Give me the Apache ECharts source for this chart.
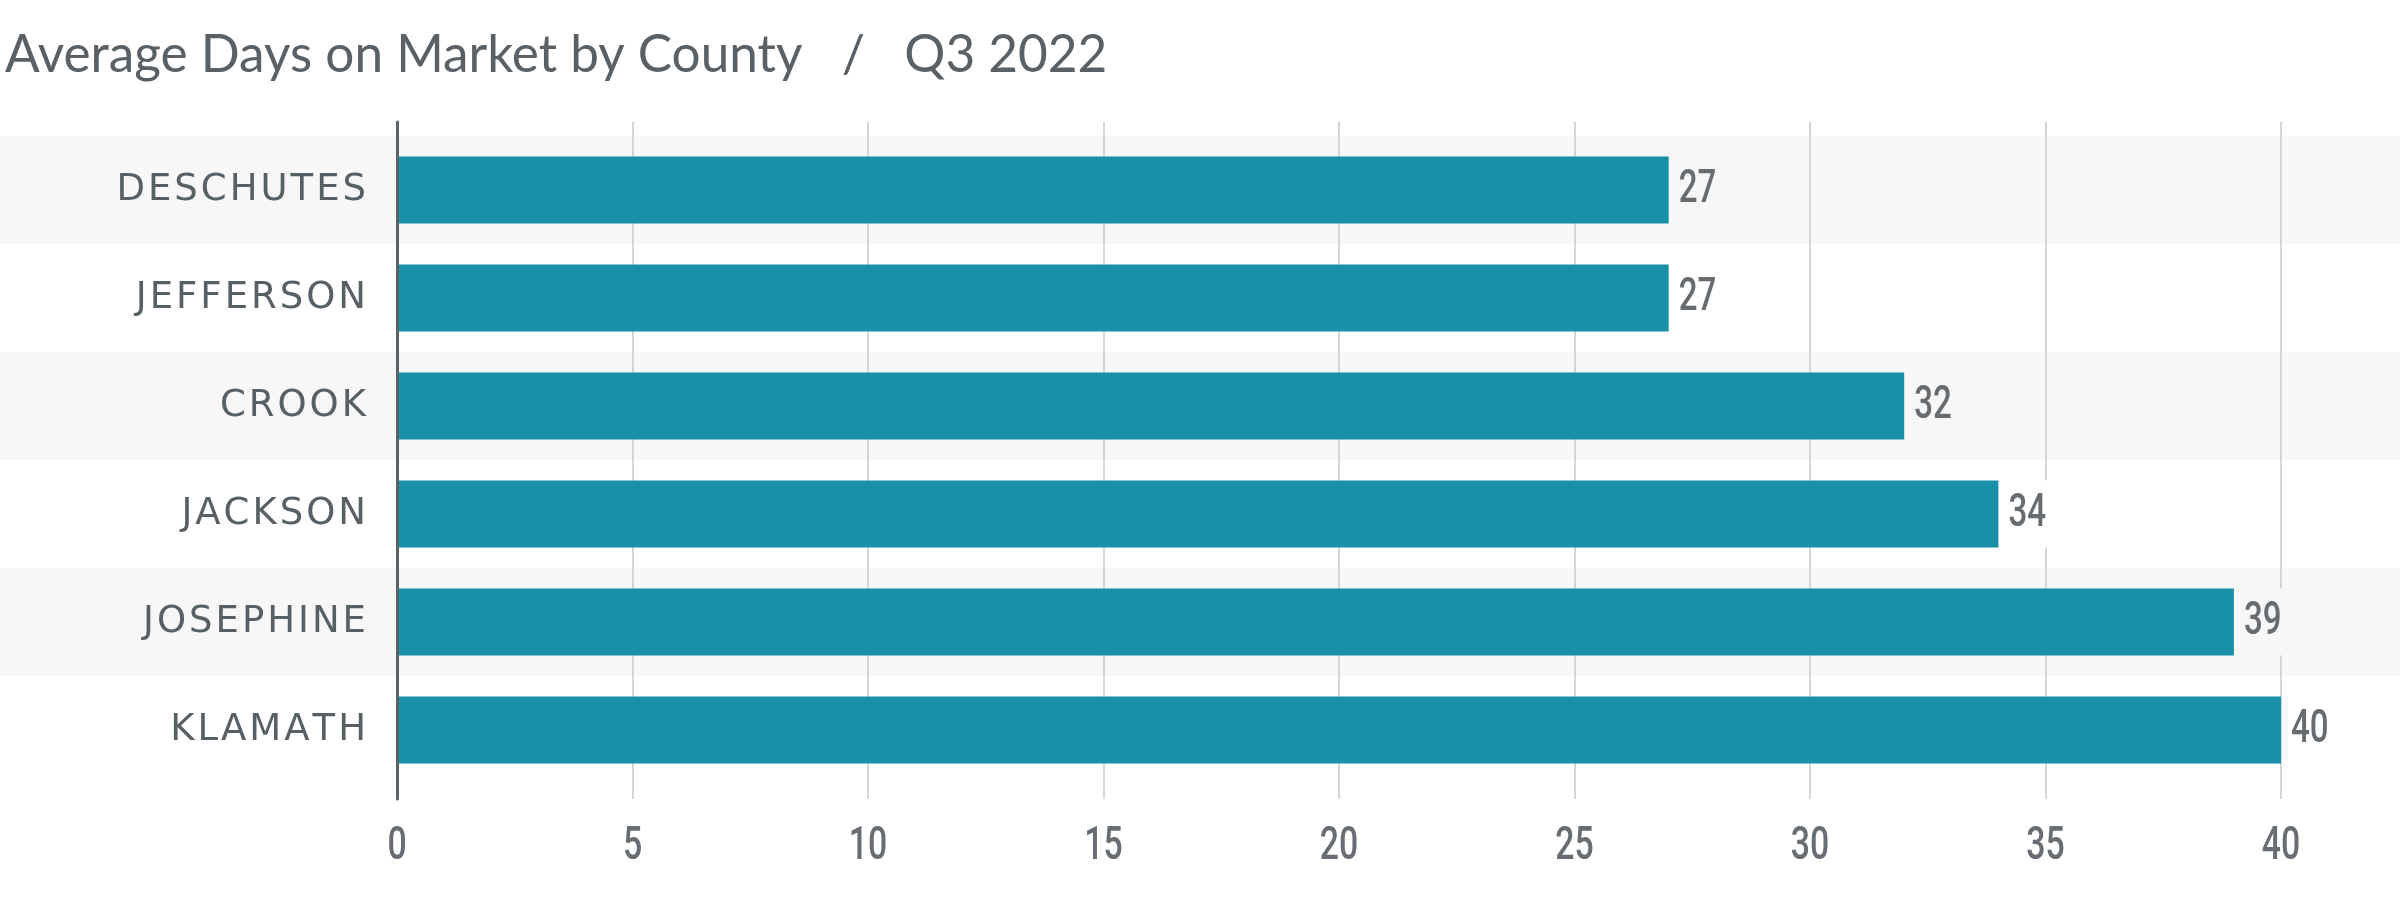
<!DOCTYPE html>
<html>
<head>
<meta charset="utf-8">
<script src="https://cdn.jsdelivr.net/npm/echarts@6/dist/echarts.min.js"></script>
<style>
html,body{margin:0;padding:0;background:#fff;}
#chart{width:2400px;height:922px;}
</style>
</head>
<body>
<div id="chart"></div>
<script>
const titleText = 'Average Days on Market by County   /   Q3 2022';
const categories = ['DESCHUTES', 'JEFFERSON', 'CROOK', 'JACKSON', 'JOSEPHINE', 'KLAMATH'];
const values = [27, 27, 32, 34, 39, 40];
const xMin = 0, xMax = 40, xStep = 5;

const bandColors = ['#f7f7f7', '#ffffff'];
const numFont = "Roboto, sans-serif";
const labelFont = "'DejaVu Sans', sans-serif";

// Condensed digits (no condensed font installed) and tracked-out category labels
(function () {
  const proto = CanvasRenderingContext2D.prototype;
  const origFill = proto.fillText;
  proto.fillText = function (text, x, y) {
    const f = this.font || '';
    if (f.indexOf('Roboto') >= 0) {
      this.save();
      this.translate(x, y);
      this.scale(0.72, 1);
      origFill.call(this, text, 0, 0);
      this.restore();
      return;
    }
    if (f.indexOf('DejaVu') >= 0) {
      const sp = 3;
      const chars = Array.from(String(text));
      const widths = chars.map(c => this.measureText(c).width);
      const total = widths.reduce((a, b) => a + b, 0) + sp * (chars.length - 1);
      const align = this.textAlign;
      let cx = x;
      if (align === 'right' || align === 'end') cx = x - total;
      else if (align === 'center') cx = x - total / 2;
      this.save();
      this.textAlign = 'left';
      chars.forEach((c, i) => { origFill.call(this, c, cx, y); cx += widths[i] + sp; });
      this.restore();
      return;
    }
    return origFill.apply(this, arguments);
  };
})();

const chart = echarts.init(document.getElementById('chart'));
chart.setOption({
  animation: false,
  backgroundColor: '#ffffff',
  title: {
    text: titleText,
    left: 0, top: 25,
    textStyle: { fontFamily: 'Lato, sans-serif', fontWeight: 'normal', fontSize: 51.3, color: '#596066' }
  },
  grid: [
    { left: 0, right: 0, top: 136, height: 648 },
    { left: 397, right: 119, top: 122, height: 677 },
    { left: 397, right: 119, top: 136, height: 648 }
  ],
  xAxis: [
    { gridIndex: 0, type: 'value', min: 0, max: 1, show: false },
    { gridIndex: 1, type: 'value', min: xMin, max: xMax, interval: xStep, z: 1,
      axisLine: { show: false }, axisTick: { show: false },
      splitLine: { show: true, lineStyle: { color: '#c9c9c9', width: 1.5 } },
      axisLabel: { margin: 25, fontSize: 47, fontWeight: 500, color: '#676d72', fontFamily: numFont } },
    { gridIndex: 2, type: 'value', min: xMin, max: xMax, show: false }
  ],
  yAxis: [
    { gridIndex: 0, type: 'category', data: categories, inverse: true, z: 0,
      axisLine: { show: false }, axisTick: { show: false }, axisLabel: { show: false },
      splitArea: { show: true, interval: 0, areaStyle: { color: bandColors } } },
    { gridIndex: 1, type: 'value', min: 0, max: 1, z: 3,
      axisLine: { show: true, lineStyle: { color: '#5b6267', width: 3 } },
      axisTick: { show: false }, axisLabel: { show: false }, splitLine: { show: false } },
    { gridIndex: 2, type: 'category', data: categories, inverse: true,
      axisLine: { show: false }, axisTick: { show: false },
      axisLabel: { interval: 0, margin: 31, fontSize: 37, color: '#576065', fontFamily: labelFont } }
  ],
  series: [{
    type: 'bar',
    xAxisIndex: 2, yAxisIndex: 2,
    barWidth: 67,
    itemStyle: { color: '#1890a8' },
    label: {
      show: true, position: 'right', distance: 6,
      fontSize: 46, fontWeight: 500, lineHeight: 67, color: '#676c71', fontFamily: numFont,
      padding: [0, 4]
    },
    data: values.map((v, i) => ({ value: v, label: { backgroundColor: bandColors[i % 2] } }))
  }]
});
</script>
</body>
</html>
